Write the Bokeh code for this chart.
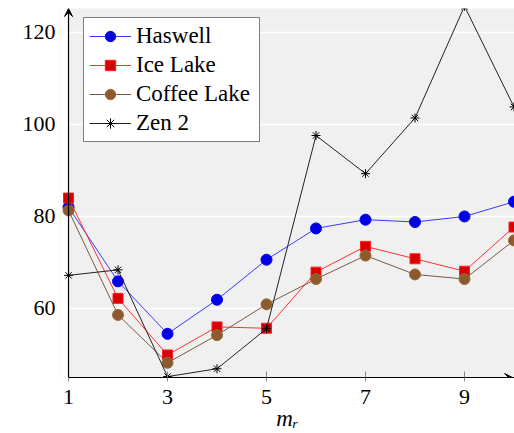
from bokeh.plotting import figure
from bokeh.models import (Range1d, FixedTicker, Legend, LegendItem, Arrow, VeeHead,
                          BoxAnnotation)
from bokeh.embed import file_html
from bokeh.resources import INLINE

x = [1, 2, 3, 4, 5, 6, 7, 8, 9, 10]
haswell = [82.0, 65.9, 54.5, 61.9, 70.6, 77.4, 79.3, 78.8, 80.0, 83.2]
ice_lake = [84.0, 62.2, 49.9, 56.0, 55.7, 67.9, 73.5, 70.8, 68.1, 77.7]
coffee_lake = [81.3, 58.6, 48.2, 54.2, 60.9, 66.4, 71.5, 67.4, 66.4, 74.8]
zen2 = [67.2, 68.4, 45.2, 46.9, 55.6, 97.6, 89.3, 101.4, 125.7, 103.8]
x_ticks = [1, 3, 5, 7, 9]
y_ticks = [60, 80, 100, 120]
x_label = "m\u1d63"

FONT = "Liberation Serif"
X0, X1 = 0.838, 10.01
Y0, Y1 = 45, 125.2

p = figure(width=514, height=433, output_backend="svg", toolbar_location=None,
           x_range=Range1d(X0, X1), y_range=Range1d(Y0, Y1),
           min_border_left=60, min_border_right=0, min_border_top=8, min_border_bottom=56)
p.outline_line_color = None
p.background_fill_color = "#f0f0f0"
p.border_fill_color = "white"

left_blank = BoxAnnotation(left=X0, right=1, fill_color="white", fill_alpha=1,
                           line_alpha=0, level="underlay")
p.add_layout(left_blank)

p.xgrid.visible = False
p.ygrid.grid_line_color = "white"
p.ygrid.grid_line_width = 1.3
p.ygrid.ticker = FixedTicker(ticks=y_ticks)

p.xaxis.ticker = FixedTicker(ticks=x_ticks)
p.yaxis.ticker = FixedTicker(ticks=y_ticks)
p.xaxis.bounds = (1, X1)
for ax in (p.xaxis[0], p.yaxis[0]):
    ax.minor_tick_line_color = None
    ax.major_label_text_font = FONT
    ax.major_label_text_font_size = "22px"
    ax.major_label_text_color = "black"
p.xaxis.axis_line_color = "black"
p.xaxis.axis_line_width = 1.2
p.xaxis.major_tick_in = 6
p.xaxis.major_tick_out = 4
p.xaxis.major_tick_line_color = "#888888"
p.xaxis.major_label_standoff = 8
p.xaxis.axis_label = x_label
p.xaxis.axis_label_text_font = FONT
p.xaxis.axis_label_text_font_style = "italic"
p.xaxis.axis_label_text_font_size = "23px"
p.xaxis.axis_label_text_color = "black"
p.xaxis.axis_label_text_line_height = 0.6
p.xaxis.axis_label_standoff = -1
p.yaxis.axis_line_color = None
p.yaxis.major_tick_in = 0
p.yaxis.major_tick_out = 0
p.yaxis.major_label_standoff = 5

r_h_l = p.line(x, haswell, line_color="#3a3aff", line_width=1)
r_h_s = p.scatter(x, haswell, marker="circle", size=11, fill_color="#0000e6", line_color="#0000ff")
r_i_l = p.line(x, ice_lake, line_color="#ff3030", line_width=1)
r_i_s = p.scatter(x, ice_lake, marker="square", size=10, fill_color="#d80000", line_color="#ff2020")
r_c_l = p.line(x, coffee_lake, line_color="#7a5a3c", line_width=1)
r_c_s = p.scatter(x, coffee_lake, marker="circle", size=11, fill_color="#8c5a2c", line_color="#9a6a3a")
r_z_l = p.line(x, zen2, line_color="#222222", line_width=1)
r_z_s = p.scatter(x, zen2, marker="asterisk", size=9, line_color="black", line_width=1)

legend = Legend(items=[
    LegendItem(label="Haswell", renderers=[r_h_l, r_h_s]),
    LegendItem(label="Ice Lake", renderers=[r_i_l, r_i_s]),
    LegendItem(label="Coffee Lake", renderers=[r_c_l, r_c_s]),
    LegendItem(label="Zen 2", renderers=[r_z_l, r_z_s]),
], location=(23, 235))
legend.border_line_color = "black"
legend.border_line_width = 1.2
legend.background_fill_color = "white"
legend.background_fill_alpha = 1
legend.label_text_font = FONT
legend.label_text_font_size = "23px"
legend.label_text_color = "black"
legend.glyph_width = 42
legend.glyph_height = 26
legend.label_height = 26
legend.spacing = 3
legend.padding = 5
legend.label_standoff = 5
legend.label_width = 118
legend.margin = 0
p.add_layout(legend)

p.add_layout(Arrow(end=VeeHead(size=8, fill_color="black", line_color="black"),
                   x_start=1, y_start=Y0, x_end=1, y_end=Y1,
                   line_color="black", line_width=1.2))
p.add_layout(Arrow(end=VeeHead(size=8, fill_color="black", line_color="black"),
                   x_start=1, y_start=Y0, x_end=9.97, y_end=Y0,
                   line_color="black", line_width=1.2))

open("out.html", "w").write(file_html(p, INLINE))
